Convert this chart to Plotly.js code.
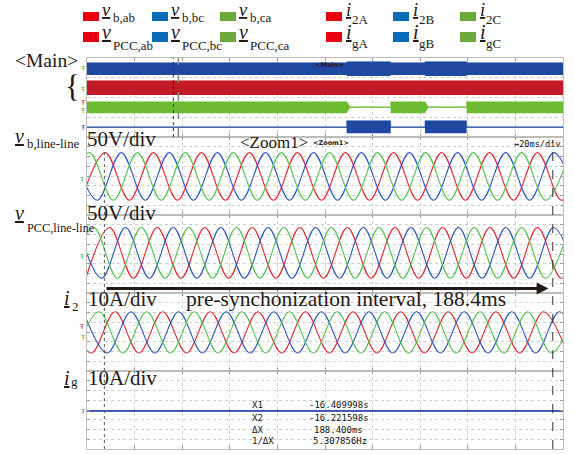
<!DOCTYPE html>
<html><head><meta charset="utf-8">
<script src="https://cdn.plot.ly/plotly-3.0.1.min.js"></script>
<style>html,body{margin:0;padding:0;background:#fff;}#chart{width:574px;height:454px;}</style>
</head><body><div id="chart"></div>
<script>
// ================= DATA =================
// Main window, time in s (2 s/div), envelopes in divisions of the main screen
const mainT   = [-20, -9.09, -9.09, -7.24, -7.24, -5.80, -5.80, -4.05, -4.05, 0];
const mainT3  = [-20, -9.09, -8.95, -7.24, -7.24, -5.80, -5.66, -4.05, -4.05, 0];
const ch1Hi = [7.52, 7.52, 7.63, 7.63, 7.52, 7.52, 7.63, 7.63, 7.52, 7.52];
const ch1Lo = [6.28, 6.28, 6.18, 6.18, 6.28, 6.28, 6.18, 6.18, 6.28, 6.28];
const ch2Hi = [5.70, 5.70, 5.70, 5.70, 5.70, 5.70, 5.70, 5.70, 5.70, 5.70];
const ch2Lo = [4.25, 4.25, 4.25, 4.25, 4.25, 4.25, 4.25, 4.25, 4.25, 4.25];
const ch3Hi = [3.57, 3.57, 3.06, 3.06, 3.57, 3.57, 3.06, 3.06, 3.57, 3.57];
const ch3Lo = [2.40, 2.40, 2.96, 2.96, 2.40, 2.40, 2.96, 2.96, 2.40, 2.40];
const ch4Hi = [1.03, 1.03, 1.65, 1.65, 1.03, 1.03, 1.65, 1.65, 1.03, 1.03];
const ch4Lo = [0.93, 0.93, 0.37, 0.37, 0.93, 0.93, 0.37, 0.37, 0.93, 0.93];
const zoomMarksT = [-16.37, -16.16];           // zoom window markers in main (s)

// Zoom window, time in ms (20 ms/div); extrema of every waveform
const vbAbT = [-2.4, 7.7, 17.8, 27.9, 38.0, 48.1, 58.1, 68.2, 78.3, 88.4, 98.5, 108.6, 118.7, 128.8, 138.9, 149.0, 159.0, 169.1, 179.2, 189.3, 199.4, 209.5];
const vbAbV = [-31, 30, -31, 30, -31, 30, -31, 30, -31, 30, -31, 30, -31, 30, -31, 30, -31, 30, -31, 30, -31, 30];
const vbBcT = [-5.8, 4.3, 14.4, 24.5, 34.6, 44.7, 54.8, 64.9, 75.0, 85.1, 95.2, 105.3, 115.3, 125.4, 135.5, 145.6, 155.7, 165.8, 175.9, 186.0, 196.1, 206.2];
const vbBcV = [30, -31, 30, -31, 30, -31, 30, -31, 30, -31, 30, -31, 30, -31, 30, -31, 30, -31, 30, -31, 30, -31];
const vbCaT = [-9.1, 1.0, 11.1, 21.2, 31.2, 41.3, 51.4, 61.5, 71.6, 81.7, 91.8, 101.9, 112.0, 122.1, 132.2, 142.3, 152.3, 162.4, 172.5, 182.6, 192.7, 202.8];
const vbCaV = [-31, 30, -31, 30, -31, 30, -31, 30, -31, 30, -31, 30, -31, 30, -31, 30, -31, 30, -31, 30, -31, 30];

const vpAbT = [-0.5, 9.5, 19.5, 29.5, 39.5, 49.5, 59.5, 69.4, 79.4, 89.4, 99.4, 109.4, 119.4, 129.4, 139.4, 149.4, 159.4, 169.3, 179.3, 189.3, 199.3, 209.3];
const vpAbV = [-31, 34, -31, 34, -31, 34, -31, 34, -31, 34, -31, 34, -31, 34, -31, 34, -31, 34, -31, 34, -31, 34];
const vpBcT = [-3.8, 6.2, 16.2, 26.2, 36.2, 46.2, 56.2, 66.1, 76.1, 86.1, 96.1, 106.1, 116.1, 126.1, 136.1, 146.1, 156.1, 166.0, 176.0, 186.0, 196.0, 206.0];
const vpBcV = [34, -31, 34, -31, 34, -31, 34, -31, 34, -31, 34, -31, 34, -31, 34, -31, 34, -31, 34, -31, 34, -31];
const vpCaT = [-7.2, 2.8, 12.8, 22.8, 32.8, 42.8, 52.8, 62.8, 72.7, 82.7, 92.7, 102.7, 112.7, 122.7, 132.7, 142.7, 152.7, 162.7, 172.6, 182.6, 192.6, 202.6];
const vpCaV = [-31, 34, -31, 34, -31, 34, -31, 34, -31, 34, -31, 34, -31, 34, -31, 34, -31, 34, -31, 34, -31, 34];

const i2AT = [-8.2, 1.8, 11.8, 21.8, 31.8, 41.8, 51.8, 61.8, 71.8, 81.8, 91.8, 101.8, 111.8, 121.8, 131.8, 141.8, 151.8, 161.8, 171.8, 181.8, 191.8, 201.8];
const i2AV = [5.2, -5.4, 5.2, -5.4, 5.2, -5.4, 5.2, -5.4, 5.2, -5.4, 5.2, -5.4, 5.2, -5.4, 5.2, -5.4, 5.2, -5.4, 5.2, -5.4, 5.2, -5.4];
const i2BT = [-1.5, 8.5, 18.5, 28.5, 38.5, 48.5, 58.5, 68.5, 78.5, 88.5, 98.5, 108.5, 118.5, 128.5, 138.5, 148.5, 158.5, 168.5, 178.5, 188.5, 198.5, 208.5];
const i2BV = [5.2, -5.4, 5.2, -5.4, 5.2, -5.4, 5.2, -5.4, 5.2, -5.4, 5.2, -5.4, 5.2, -5.4, 5.2, -5.4, 5.2, -5.4, 5.2, -5.4, 5.2, -5.4];
const i2CT = [-4.9, 5.1, 15.1, 25.1, 35.1, 45.1, 55.1, 65.1, 75.1, 85.1, 95.1, 105.1, 115.1, 125.1, 135.1, 145.1, 155.1, 165.1, 175.1, 185.1, 195.1, 205.1];
const i2CV = [-5.4, 5.2, -5.4, 5.2, -5.4, 5.2, -5.4, 5.2, -5.4, 5.2, -5.4, 5.2, -5.4, 5.2, -5.4, 5.2, -5.4, 5.2, -5.4, 5.2, -5.4, 5.2];

const igT = [0, 200];
const igV = [-0.2, -0.2];

const cursorT = [7.3, 195.7];                 // X1, X2 in zoom (ms)
const cursorLabels = ['X1', 'X2', 'ΔX', '1/ΔX'];
const cursorValues = ['-16.409998s', '-16.221598s', '188.400ms', '5.307856Hz'];

const legendRow1 = [['v','b,ab'],['v','b,bc'],['v','b,ca'],['i','2A'],['i','2B'],['i','2C']];
const legendRow2 = [['v','PCC,ab'],['v','PCC,bc'],['v','PCC,ca'],['i','gA'],['i','gB'],['i','gC']];

// ================= STYLE / LAYOUT =================
const W = 574, H = 454, L = 87, R = 563, T = 58, B = 449;
const fx = px => (px - L) / (R - L);
const fy = py => (B - py) / (B - T);
const INK = '#231815';
const LEG = {red: '#E60012', blue: '#0A6BB6', green: '#6BAA3A'};
const WAV = {red: '#E0262E', blue: '#2B55BC', green: '#52C24E'};
const BAND = {blue: '#1F48A0', red: '#C21A24', green: '#6DBB30'};

const traces = [];
function band(t, lo, hi, color) {
  traces.push({x: t, y: lo, xaxis: 'x', yaxis: 'y', mode: 'lines', line: {width: 0, color}, hoverinfo: 'skip'});
  traces.push({x: t, y: hi, xaxis: 'x', yaxis: 'y', mode: 'lines', line: {width: 0.5, color}, fill: 'tonexty', fillcolor: color, hoverinfo: 'skip'});
}
band(mainT, ch2Lo, ch2Hi, BAND.red);
band(mainT, ch1Lo, ch1Hi, BAND.blue);
band(mainT3, ch3Lo, ch3Hi, BAND.green);
band(mainT, ch4Lo, ch4Hi, BAND.blue);

function wave(t, v, xa, ya, color, w) {
  traces.push({x: t, y: v, xaxis: xa, yaxis: ya, mode: 'lines', line: {shape: 'spline', smoothing: 1, width: w || 1.1, color}, hoverinfo: 'skip'});
}
wave(vbAbT, vbAbV, 'x2', 'y2', WAV.red);
wave(vbBcT, vbBcV, 'x2', 'y2', WAV.blue);
wave(vbCaT, vbCaV, 'x2', 'y2', WAV.green);
wave(vpAbT, vpAbV, 'x3', 'y3', WAV.red);
wave(vpBcT, vpBcV, 'x3', 'y3', WAV.blue);
wave(vpCaT, vpCaV, 'x3', 'y3', WAV.green);
wave(i2AT, i2AV, 'x4', 'y4', WAV.red);
wave(i2BT, i2BV, 'x4', 'y4', WAV.blue);
wave(i2CT, i2CV, 'x4', 'y4', WAV.green);
wave(igT, igV, 'x5', 'y5', WAV.green, 1);
wave(igT, igV, 'x5', 'y5', WAV.red, 1.6);
wave(igT, igV, 'x5', 'y5', WAV.blue, 1.8);

const axBase = {showline: true, linecolor: '#bcbcbc', linewidth: 1, mirror: 'ticks', ticks: 'inside', ticklen: 3,
  tickcolor: '#9a9a9a', showticklabels: false, showgrid: true, gridcolor: '#cfcfcf', griddash: 'dot', gridwidth: 1,
  zeroline: false, fixedrange: true};
const dMain = [fy(137), 1], dVb = [fy(215), fy(137)], dVp = [fy(293), fy(215)], dI2 = [fy(371), fy(293)], dIg = [0, fy(371)];

const layout = {
  width: W, height: H, margin: {l: L, r: W - R, t: T, b: H - B, pad: 0},
  paper_bgcolor: '#fff', plot_bgcolor: '#fff', showlegend: false,
  xaxis:  Object.assign({}, axBase, {domain: [0, 1], anchor: 'y', range: [-20, 0], dtick: 2, tick0: 0}),
  yaxis:  Object.assign({}, axBase, {domain: dMain, anchor: 'x', range: [0, 8], dtick: 1, ticks: ''}),
  xaxis2: Object.assign({}, axBase, {domain: [0, 1], anchor: 'y2', range: [0, 200], dtick: 20, tick0: 0}),
  yaxis2: Object.assign({}, axBase, {domain: dVb, anchor: 'x2', range: [-50, 50], dtick: 12.5, tick0: 0}),
  xaxis3: Object.assign({}, axBase, {domain: [0, 1], anchor: 'y3', range: [0, 200], dtick: 20, tick0: 0}),
  yaxis3: Object.assign({}, axBase, {domain: dVp, anchor: 'x3', range: [-50, 50], dtick: 12.5, tick0: 0}),
  xaxis4: Object.assign({}, axBase, {domain: [0, 1], anchor: 'y4', range: [0, 200], dtick: 20, tick0: 0}),
  yaxis4: Object.assign({}, axBase, {domain: dI2, anchor: 'x4', range: [-10, 10], dtick: 2.5, tick0: 0}),
  xaxis5: Object.assign({}, axBase, {domain: [0, 1], anchor: 'y5', range: [0, 200], dtick: 20, tick0: 0}),
  yaxis5: Object.assign({}, axBase, {domain: dIg, anchor: 'x5', range: [-10, 10], dtick: 2.5, tick0: 0}),
  shapes: [], annotations: []
};
const S = layout.shapes, A = layout.annotations;

function txt(text, xpx, basePx, size, o) {
  o = o || {};
  const asc = o.asc != null ? o.asc : 0.891, desc = o.desc != null ? o.desc : 0.216;
  A.push({xref: 'paper', yref: 'paper', x: fx(xpx), y: fy(basePx - (asc - desc) / 2 * size),
    xanchor: o.anchor || 'left', yanchor: 'middle', text: text, showarrow: false, borderpad: 0, borderwidth: 0,
    font: {family: o.family || 'Liberation Serif', size: size, color: o.color || INK}});
}

// Legend
const sqX = [83, 152, 220, 326, 393, 460];
const sqCol = [LEG.red, LEG.blue, LEG.green, LEG.red, LEG.blue, LEG.green];
[[legendRow1, 12, 21, 16.5, 22.3, 24, 18.5], [legendRow2, 32, 42, 39, 50, 48, 20]].forEach(function (row) {
  const items = row[0];
  items.forEach(function (it, k) {
    S.push({type: 'rect', xref: 'paper', yref: 'paper', x0: fx(sqX[k]), x1: fx(sqX[k] + 16), y0: fy(row[2]), y1: fy(row[1]),
      fillcolor: sqCol[k], line: {width: 0}, layer: 'above'});
    const isI = it[0] === 'i';
    txt('<i><u>' + it[0] + '</u></i>', sqX[k] + (isI ? 20 : 19), row[3], row[6]);
    txt(it[1], sqX[k] + (isI ? 26 : 30), isI ? row[5] : row[4], 13);
  });
});

// Left labels
txt('&lt;Main&gt;', 15, 67, 19.5);
txt('{', 72, 97, 31, {anchor: 'center'});
txt('<i><u>v</u></i>', 15, 143, 20);
txt('b,line-line', 27, 148, 12.8);
txt('<i><u>v</u></i>', 15, 220, 20);
txt('PCC,line-line', 27, 232, 12.3);
txt('<i><u>i</u></i>', 64, 305, 20);
txt('2', 71.5, 311, 13);
txt('<i><u>i</u></i>', 64, 385, 20);
txt('g', 70.5, 386, 13);
txt('50V/div', 87, 146, 21);
txt('50V/div', 87, 220, 21);
txt('10A/div', 88, 306, 21);
txt('10A/div', 88, 385, 21);
txt('pre-synchonization interval, 188.4ms', 186, 306, 21.5);
txt('&lt;Zoom1&gt;', 240, 148, 17);
txt('<b>&lt;Zoom1&gt;</b>', 313, 145, 6.5, {family: 'DejaVu Sans'});
txt('<b>&lt;Main&gt;</b>', 315, 67, 6.5, {family: 'DejaVu Sans'});
txt('↔20ms/div', 514, 146, 8.6, {family: 'DejaVu Sans Mono', asc: 0.76, desc: 0.24, color: '#111'});

// cursor read-out
const curY = [407, 420, 432, 443];
const valX = [309, 309, 314, 313];
cursorLabels.forEach(function (s, k) {
  txt(s, 252, curY[k], 9, {family: 'DejaVu Sans Mono', asc: 0.76, desc: 0.24, color: '#111'});
  txt(cursorValues[k], valX[k], curY[k], 9, {family: 'DejaVu Sans Mono', asc: 0.76, desc: 0.24, color: '#111'});
});

// channel markers
[[83, 69, WAV.green], [83, 90, WAV.green], [83, 103, WAV.red], [83, 111, WAV.green], [83, 128, '#2B55BC'],
 [82, 180, WAV.green], [82, 257, WAV.green], [82, 327, WAV.red], [83, 338, WAV.green], [83, 412, '#5A86D6']].forEach(function (m) {
  A.push({xref: 'paper', yref: 'paper', x: fx(m[0]), y: fy(m[1]), xanchor: 'center', yanchor: 'middle', text: 'Ŧ',
    showarrow: false, font: {family: 'DejaVu Sans', size: 7, color: m[2]}});
});

// zoom window markers in main
S.push({type: 'line', xref: 'x', yref: 'paper', x0: zoomMarksT[0], x1: zoomMarksT[0], y0: fy(137), y1: 1, line: {color: '#333', width: 1, dash: 'dot'}});
S.push({type: 'line', xref: 'x', yref: 'paper', x0: zoomMarksT[1], x1: zoomMarksT[1], y0: fy(137), y1: 1, line: {color: '#888', width: 1.5, dash: 'dash'}});
// cursors in zoom
S.push({type: 'line', xref: 'x2', yref: 'paper', x0: cursorT[0], x1: cursorT[0], y0: 0, y1: fy(150), line: {color: '#555', width: 1, dash: 'dot'}});
S.push({type: 'line', xref: 'x2', yref: 'paper', x0: cursorT[1], x1: cursorT[1], y0: 0, y1: fy(140), line: {color: '#333', width: 1, dash: 'dash'}});

// arrow of the pre-synchronization interval
A.push({xref: 'paper', yref: 'paper', x: fx(548.5), y: fy(288.5), ax: -(548.5 - 105), ay: 0, axref: 'pixel', ayref: 'pixel',
  showarrow: true, arrowhead: 2, arrowsize: 0.85, arrowwidth: 2.8, arrowcolor: INK, text: ''});

Plotly.newPlot('chart', traces, layout, {staticPlot: true, displayModeBar: false});
</script></body></html>
